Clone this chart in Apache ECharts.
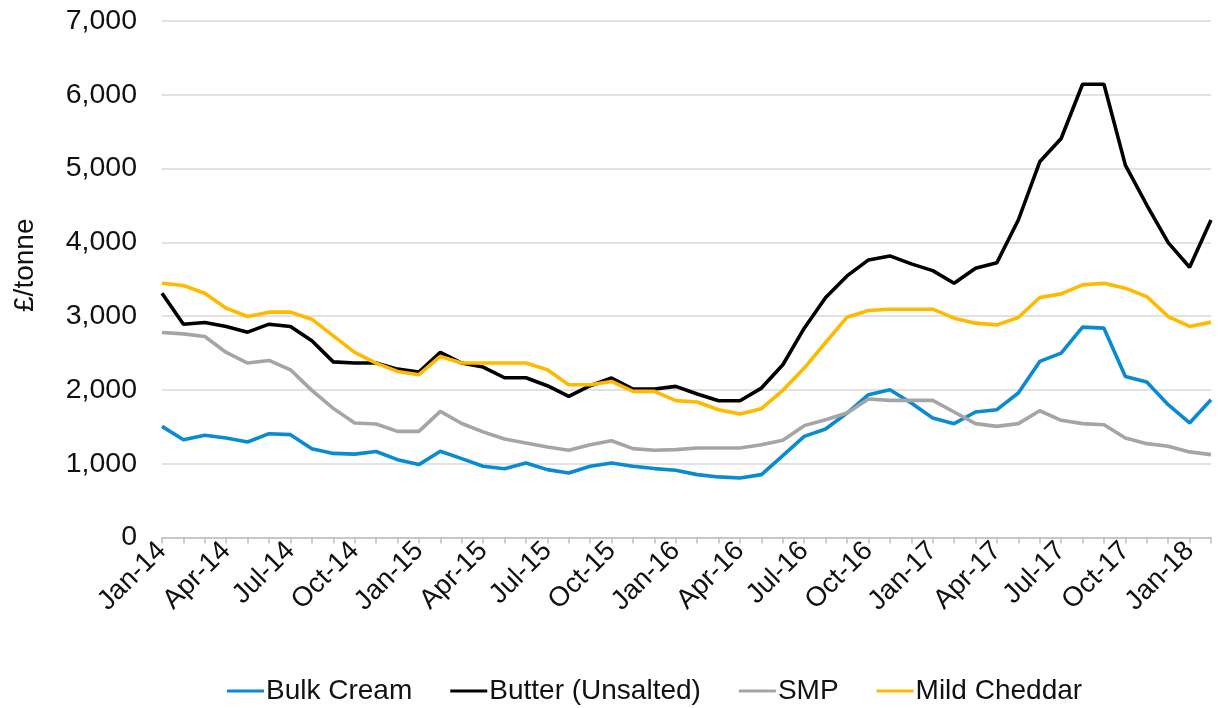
<!DOCTYPE html>
<html>
<head>
<meta charset="utf-8">
<script src="https://cdn.jsdelivr.net/npm/echarts@6/dist/echarts.min.js"></script>
<style>
  html, body { margin: 0; padding: 0; background: #ffffff; }
  #chart { width: 1219px; height: 708px; }
</style>
</head>
<body>
<div id="chart"></div>
<script>
// Monthly prices, Jan-14 .. Feb-18 (£/tonne)
const months = [
  'Jan-14', 'Feb-14', 'Mar-14', 'Apr-14', 'May-14', 'Jun-14', 'Jul-14', 'Aug-14', 'Sep-14', 'Oct-14', 'Nov-14', 'Dec-14',
  'Jan-15', 'Feb-15', 'Mar-15', 'Apr-15', 'May-15', 'Jun-15', 'Jul-15', 'Aug-15', 'Sep-15', 'Oct-15', 'Nov-15', 'Dec-15',
  'Jan-16', 'Feb-16', 'Mar-16', 'Apr-16', 'May-16', 'Jun-16', 'Jul-16', 'Aug-16', 'Sep-16', 'Oct-16', 'Nov-16', 'Dec-16',
  'Jan-17', 'Feb-17', 'Mar-17', 'Apr-17', 'May-17', 'Jun-17', 'Jul-17', 'Aug-17', 'Sep-17', 'Oct-17', 'Nov-17', 'Dec-17',
  'Jan-18', 'Feb-18'
];

const bulkCream = [
  1506, 1326, 1385, 1349, 1295, 1407, 1394, 1204, 1140, 1130, 1165, 1055,
  988, 1168, 1069, 965, 932, 1010, 920, 875, 965, 1010, 965, 934,
  911, 852, 821, 807, 852, 1110, 1371, 1471, 1687, 1935, 2003, 1822,
  1620, 1543, 1701, 1732, 1958, 2386, 2499, 2851, 2837, 2183, 2107, 1800,
  1552, 1867
];

const butter = [
  3311, 2891, 2914, 2860, 2783, 2891, 2860, 2666, 2380, 2364, 2364, 2282,
  2242, 2508, 2364, 2310, 2165, 2165, 2057, 1912, 2057, 2161, 2012, 2012,
  2048, 1944, 1854, 1854, 2025, 2341, 2837, 3252, 3545, 3762, 3816, 3708,
  3617, 3446, 3649, 3725, 4303, 5092, 5408, 6143, 6143, 5047, 4506, 3996,
  3663, 4303
];

const smp = [
  2779, 2760, 2724, 2508, 2364, 2400, 2273, 1994, 1750, 1552, 1538, 1438,
  1438, 1709, 1545, 1432, 1335, 1281, 1227, 1182, 1258, 1312, 1204, 1182,
  1191, 1213, 1213, 1213, 1258, 1317, 1516, 1597, 1687, 1877, 1858, 1858,
  1858, 1701, 1543, 1506, 1543, 1718, 1588, 1543, 1529, 1349, 1272, 1236,
  1160, 1123
];

const mildCheddar = [
  3446, 3415, 3311, 3108, 2995, 3054, 3054, 2959, 2733, 2508, 2364, 2251,
  2206, 2454, 2364, 2364, 2364, 2364, 2273, 2070, 2070, 2115, 1980, 1980,
  1855, 1836, 1732, 1673, 1746, 1994, 2296, 2643, 2986, 3076, 3094, 3094,
  3094, 2973, 2905, 2882, 2981, 3252, 3302, 3424, 3446, 3379, 3265, 2995,
  2860, 2919
];

const seriesNames = ['Bulk Cream', 'Butter (Unsalted)', 'SMP', 'Mild Cheddar'];
const seriesColors = ['#0a8ad0', '#000000', '#a5a5a5', '#ffba00'];

const fontFamily = "'Liberation Sans', Arial, sans-serif";
const textColor = '#111111';

const chart = echarts.init(document.getElementById('chart'));

// one line series per product
const makeSeries = (name, data, color) => ({
  name,
  type: 'line',
  data,
  color,
  symbol: 'none',
  smooth: false,
  lineStyle: {
    width: 3.6,
    color,
  },
});

const option = {
  animation: false,
  textStyle: {
    fontFamily,
  },
  grid: {
    left: 162,
    right: 8,
    top: 21,
    bottom: 170.5,
    containLabel: false,
  },
  legend: {
    left: 222,
    top: 672,
    icon: 'rect',
    itemWidth: 37,
    itemHeight: 3,
    itemGap: 38,
    textStyle: {
      fontFamily,
      fontSize: 28,
      color: textColor,
      padding: [0, 0, 0, -3],
    },
    data: seriesNames,
  },
  xAxis: {
    type: 'category',
    data: months,
    boundaryGap: false,
    axisLine: {
      lineStyle: {
        color: '#bfbfbf',
        width: 1.5,
      },
    },
    axisTick: {
      show: true,
      interval: 0,
      length: 6,
      lineStyle: {
        color: '#bfbfbf',
        width: 1.5,
      },
    },
    axisLabel: {
      interval: 2,
      rotate: 45,
      margin: 9,
      fontFamily,
      fontSize: 27.5,
      color: textColor,
    },
    splitLine: {
      show: false,
    },
  },
  yAxis: {
    type: 'value',
    min: 0,
    max: 7000,
    interval: 1000,
    name: '£/tonne',
    nameLocation: 'middle',
    nameRotate: 90,
    nameGap: 123,
    nameTextStyle: {
      fontFamily,
      fontSize: 28,
      color: textColor,
      padding: [0, 0, 0, 28],
    },
    axisLine: {
      show: false,
    },
    axisTick: {
      show: false,
    },
    axisLabel: {
      margin: 25,
      fontFamily,
      fontSize: 28.5,
      color: textColor,
      formatter: (value) => value.toLocaleString('en-GB'),
    },
    splitLine: {
      show: true,
      lineStyle: {
        color: '#d9d9d9',
        width: 1.5,
      },
    },
  },
  series: [
    makeSeries(seriesNames[0], bulkCream, seriesColors[0]),
    makeSeries(seriesNames[1], butter, seriesColors[1]),
    makeSeries(seriesNames[2], smp, seriesColors[2]),
    makeSeries(seriesNames[3], mildCheddar, seriesColors[3]),
  ],
};

chart.setOption(option);
</script>
</body>
</html>
